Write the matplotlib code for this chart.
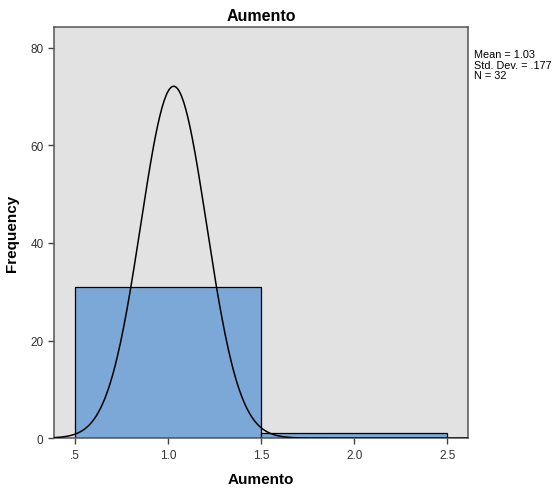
import numpy as np
import matplotlib
matplotlib.use("Agg")
import matplotlib.pyplot as plt

plt.rcParams['font.family'] = ['Liberation Sans', 'DejaVu Sans']

# histogram of Aumento (SPSS style)
bin_edges = [0.5, 1.5, 2.5]
counts = [31, 1]
mean = 1.03
sd = 0.177
n = 32
xticks = [0.5, 1.0, 1.5, 2.0, 2.5]
xtick_labels = [".5", "1.0", "1.5", "2.0", "2.5"]
yticks = [0, 20, 40, 60, 80]

fig = plt.figure(figsize=(5.53, 4.89), dpi=100)
ax = fig.add_axes([0.0977, 0.102, 0.749, 0.841])
ax.set_facecolor("#e2e2e2")

widths = np.diff(bin_edges)
ax.bar(bin_edges[:-1], counts, width=widths, align="edge",
       color="#7ba8d6", edgecolor="black", linewidth=0.9, zorder=2)

# fitted normal curve scaled to counts
bw = widths[0]
xs = np.linspace(0.387, 2.613, 400)
ys = n * bw / (sd * np.sqrt(2 * np.pi)) * np.exp(-0.5 * ((xs - mean) / sd) ** 2)
ax.plot(xs, ys, color="black", linewidth=1.1, zorder=3)

ax.set_xlim(0.387, 2.613)
ax.set_ylim(0, 84.3)
ax.set_xticks(xticks)
ax.set_xticklabels(xtick_labels)
ax.set_yticks(yticks)
ax.tick_params(axis="both", direction="out", length=4, width=1,
               color="#444444", labelsize=8.5, labelcolor="#333333")
for s in ax.spines.values():
    s.set_color("#555555")
    s.set_linewidth(1.1)

ax.set_title("Aumento", fontsize=11.5, fontweight="bold", pad=5)
ax.set_xlabel("Aumento", fontsize=11, fontweight="bold", labelpad=8)
ax.set_ylabel("Frequency", fontsize=11, fontweight="bold", labelpad=8)

fig.text(0.858, 0.897, "Mean = %.2f\nStd. Dev. = .%d\nN = %d" % (mean, round(sd * 1000), n),
         fontsize=7.8, va="top", ha="left", linespacing=1.05)

fig.savefig("out.png", dpi=100)
